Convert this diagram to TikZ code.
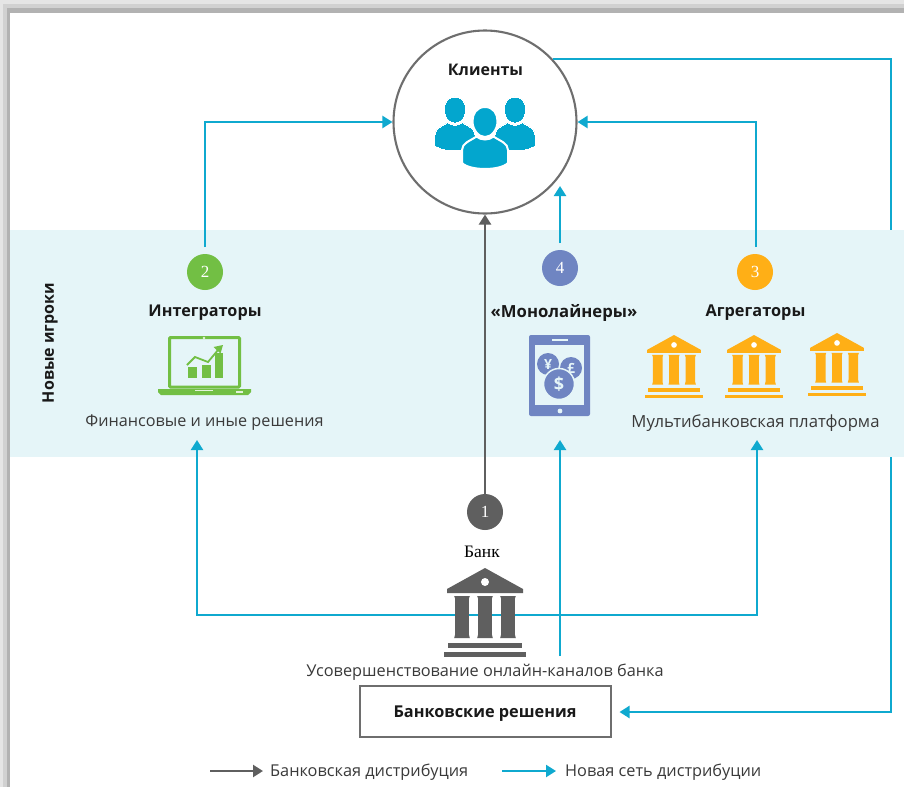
\documentclass[tikz,border=0pt]{standalone}
\usepackage{fontspec}
\setmainfont{Open Sans}
\newfontfamily\numfont{Liberation Serif}
\usetikzlibrary{arrows.meta,calc}
\definecolor{linkblue}{HTML}{0FA9CF}
\definecolor{iconblue}{HTML}{03A6CE}
\definecolor{bandblue}{HTML}{E5F5F8}
\definecolor{darkgray}{HTML}{5F5F5F}
\definecolor{ringgray}{HTML}{6E6E6E}
\definecolor{igreen}{HTML}{72BF44}
\definecolor{iviolet}{HTML}{6F85C2}
\definecolor{iorange}{HTML}{FFAF16}
\definecolor{txt}{HTML}{3A3A3A}
\newcommand{\fs}[1]{\fontsize{#1}{18}\selectfont}
\tikzset{
  x=1pt,y=-1pt,
  blueline/.style={draw=linkblue,line width=2.2pt,-{Triangle[length=10pt,width=12pt]}},
  grayline/.style={draw=darkgray,line width=2.3pt,-{Triangle[length=10pt,width=12pt]}},
  badge/.style={circle,minimum size=36pt,inner sep=0pt,text=white,font=\numfont\fontsize{17}{17}\selectfont},
  caption/.style={inner sep=0pt,text=txt},
  headline/.style={inner sep=0pt,text=black!90},
  pics/temple/.style={code={
    \fill[#1] (0,0) -- (38,21) -- (38,25) -- (-38,25) -- (-38,21) -- cycle;
    \fill[white] (0,14) circle (4);
    \foreach \c in {-23,0,23}{
      \fill[#1] (\c-7.8,28) -- (\c+7.8,28) -- (\c+6.8,31) -- (\c+6.8,66) -- (\c+7.8,70) -- (\c-7.8,70) -- (\c-6.8,66) -- (\c-6.8,31) -- cycle;
    }
    \fill[#1] (-37,75) rectangle (37,80);
    \fill[#1] (-41,84) rectangle (41,89);
  }},
  pics/personicon/.style={code={
    \fill[iconblue,draw=white,line width=#1] (-23,41) -- (-23,28) .. controls (-23,21) and (-15,19) .. (-8.5,14.5) .. controls (-4,18.5) and (4,18.5) .. (8.5,14.5) .. controls (15,19) and (23,21) .. (23,28) -- (23,41) .. controls (15,49) and (-15,49) .. (-23,41) -- cycle;
    \fill[iconblue,draw=white,line width=#1] (0,-15) .. controls (8.5,-15) and (12.5,-8) .. (12.5,-1) .. controls (12.5,8) and (6.5,15) .. (0,15) .. controls (-6.5,15) and (-12.5,8) .. (-12.5,-1) .. controls (-12.5,-8) and (-8.5,-15) .. (0,-15) -- cycle;
  }},
}
\begin{document}
\begin{tikzpicture}
\useasboundingbox (0,0) rectangle (904,787);
\fill[white] (0,0) rectangle (904,787);
% window shadow
\fill[black!10] (0,0) rectangle (904,13);
\fill[black!10] (0,0) rectangle (10,787);
\fill[black!18] (3,4) rectangle (904,13);
\fill[black!18] (3,4) rectangle (10,787);
\fill[black!30] (7,8) rectangle (904,13);
\fill[black!30] (7,8) rectangle (10,787);
\fill[white] (10,13) rectangle (904,787);

% client circle
\node[circle,draw=ringgray,line width=2.1pt,fill=white,minimum size=183pt,inner sep=0pt] (client) at (485,122) {};
% outer blue return line (runs behind the band)
\coordinate (retA) at (553,59);
\coordinate (retB) at (891,59);
\coordinate (retC) at (891,712);

% box
\node[draw=ringgray,line width=2pt,fill=white,minimum width=251pt,minimum height=51pt,inner sep=0pt,text height=12pt,text depth=0pt,font=\fs{16.3}\bfseries,text=black!90] (box) at (485,711.5) {Банковские решения};
\coordinate (boxin) at ($(box.east)+(8,0.5)$);
\draw[blueline] (retA) -- (retB) -- (retC) -- (boxin);

% band
\node[fill=bandblue,minimum width=894pt,minimum height=227pt,inner sep=0pt] (band) at (457,343.5) {};

% labels
\node[headline,font=\fs{16}\bfseries] (lclient) at (485.5,70) {Клиенты};
\node[headline,rotate=90,font=\fs{16}\bfseries] (lnew) at (50,343) {Новые игроки};
\node[headline,font=\fs{16.2}\bfseries] (lint) at (205,312.5) {Интеграторы};
\node[headline,font=\fs{16.7}\bfseries] (lmono) at (564,312.5) {«Монолайнеры»};
\node[headline,font=\fs{16.3}\bfseries] (lagg) at (755.5,312.5) {Агрегаторы};
\node[caption,font=\fs{16.2}] (lfin) at (204.5,423) {Финансовые и иные решения};
\node[caption,font=\fs{16.7}] (lmulti) at (755.5,423) {Мультибанковская платформа};
\node[caption,font=\fs{16.3}] (lbetter) at (485,672) {Усовершенствование онлайн-каналов банка};
\node[inner sep=0pt,text=black,font=\numfont\fontsize{17.5}{18}\selectfont] (lbank) at (482,552) {Банк};

% badges
\node[badge,fill=darkgray] (n1) at (485,512) {1};
\node[badge,fill=igreen] (n2) at (205,272) {2};
\node[badge,fill=iorange] (n3) at (755,272) {3};
\node[badge,fill=iviolet] (n4) at (560,268) {4};

% anchors
\coordinate (c2) at (205,122);
\coordinate (c3) at (756,122);
\coordinate (t4) at (560,186);
\coordinate (s2) at (205,247);
\coordinate (s3) at (756,247);
\coordinate (s4) at (560,243);
\coordinate (bl) at (197,615);
\coordinate (br) at (757,615);
\coordinate (bc) at (485,615);
\coordinate (bm) at (560,656);
\coordinate (a2) at (197,440);
\coordinate (a3) at (757,440);
\coordinate (a4) at (560,440);

\draw[blueline] (s2) -- (c2) -- (client.west);
\draw[blueline] (s3) -- (c3) -- (client.east);
\draw[blueline] (s4) -- (t4);
\draw[blueline] (bc) -- (bl) -- (a2);
\draw[blueline] (bc) -- (br) -- (a3);
\draw[blueline] (bm) -- (a4);
\draw[grayline] (n1) -- (client.south);

% bank temple
\pic at (485,568) {temple={darkgray}};
% yellow temples
\pic[scale=.71] at (674,335) {temple={iorange}};
\pic[scale=.71] at (754,335) {temple={iorange}};
\pic[scale=.71] at (837,333) {temple={iorange}};

% people
\pic[scale=.87] at (455,110) {personicon=0pt};
\pic[scale=.87] at (515,110) {personicon=0pt};
\pic at (485,122) {personicon=2pt};

% laptop
\draw[igreen,line width=3pt,rounded corners=1pt] (169.5,337.5) rectangle (239.5,387);
\fill[igreen] (158,389) -- (251,389) -- (251,392) -- (248,395) -- (161,395) -- (158,392) -- cycle;
\fill[white,opacity=.8] (195,389.5) rectangle (213,391);
\fill[white,opacity=.8] (236,391) rectangle (243,393);
\fill[white,opacity=.8] (204,338) circle (1.3);
\fill[igreen] (188,367) rectangle (197,378);
\fill[igreen] (202,365) rectangle (211,378);
\fill[igreen] (215,353) rectangle (223,378);
\draw[igreen,line width=1.8pt] (187,365) -- (195,357) -- (208,362) -- (218,350);
\fill[igreen] (223,345) -- (213.5,347) -- (220.5,353.5) -- cycle;

% tablet
\fill[iviolet,rounded corners=2pt] (529,335) rectangle (590,416);
\fill[bandblue] (535,345) rectangle (584,405);
\fill[bandblue] (552,338.5) rectangle (568,340.5);
\fill[bandblue] (560,411) circle (2.4);
\node[circle,fill=iviolet,minimum size=22pt,inner sep=0pt,text=bandblue,font=\fontsize{14}{14}\selectfont\bfseries] (yen) at (548,364) {¥};
\node[circle,fill=iviolet,minimum size=22pt,inner sep=0pt,text=bandblue,font=\fontsize{14}{14}\selectfont\bfseries] (pound) at (571,368) {£};
\node[circle,fill=iviolet,draw=bandblue,line width=1.5pt,minimum size=31pt,inner sep=0pt,text=bandblue,font=\fontsize{18}{18}\selectfont\bfseries] (dollar) at (559,384) {\$};

% legend
\coordinate (lg1) at (210,771);
\coordinate (lg2) at (263,771);
\coordinate (lb1) at (502,771);
\coordinate (lb2) at (556,771);
\draw[grayline] (lg1) -- (lg2);
\draw[blueline] (lb1) -- (lb2);
\node[caption,anchor=west,font=\fs{16.3}] (lgt) at (270,772) {Банковская дистрибуция};
\node[caption,anchor=west,font=\fs{16.3}] (lbt) at (565,772) {Новая сеть дистрибуции};
\end{tikzpicture}
\end{document}
